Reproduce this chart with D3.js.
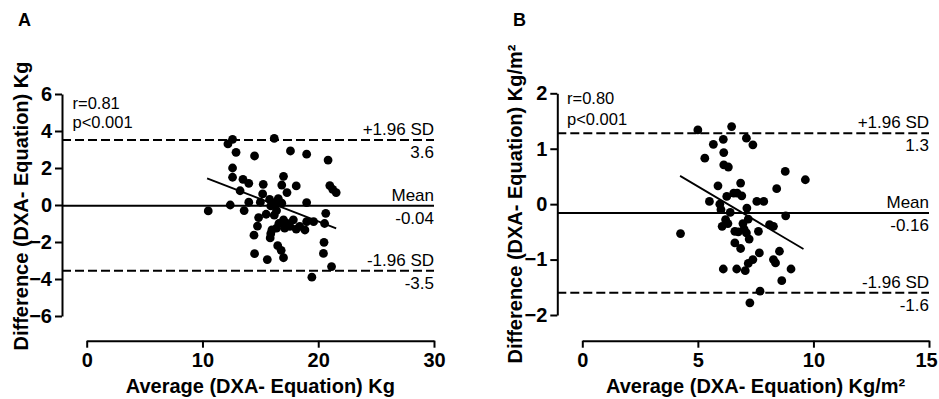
<!DOCTYPE html>
<html>
<head>
<meta charset="utf-8">
<script src="https://cdn.jsdelivr.net/npm/d3@7"></script>
<style>
  body { margin: 0; background: #fff; }
  svg { font-family: "Liberation Sans", Arial, sans-serif; }
</style>
</head>
<body>
<div id="chart"></div>
<script>
// Panel A: average vs difference, Kg
var avgA = [10.5, 12.4, 12.2, 12.6, 12.9, 12.6, 12.6, 13.25, 13.5, 14.0, 13.6, 14.0, 14.5, 14.45, 14.5,
    14.75, 14.85, 15.0, 15.25, 15.2, 15.5, 15.6, 15.85, 16.2, 15.8, 16.1, 16.4, 16.55, 16.85, 16.4,
    16.6, 16.5, 16.8, 17.0, 17.0, 16.85, 17.3, 17.0, 17.1, 17.6, 18.1, 17.55, 17.85, 18.1, 18.4,
    18.85, 19.0, 19.0, 19.0, 19.45, 19.6, 20.5, 20.45, 20.65, 20.55, 20.85, 21.0, 21.25, 21.55, 21.15,
    16.3, 15.9, 16.2, 17.3, 16.0, 15.9];
var diffA = [-0.32, 0.0, 3.3, 3.55, 2.85, 2.0, 1.5, 0.77, 1.39, 1.17, -0.3, 0.15, 2.65, -1.63, -2.63,
    -1.14, -0.68, 0.15, 1.12, 0.6, -0.5, -2.95, -1.78, 3.6, 0.3, 0.1, -0.3, 0.35, 0.1, -1.25,
    -1.0, -2.2, -2.45, -2.85, 1.55, 1.08, 0.67, -0.8, -1.25, 2.92, 1.03, -1.15, -0.8, -1.3, -1.15,
    -1.35, 2.75, 0.13, -0.9, -3.9, -0.9, -2.02, -2.62, -0.45, -1.0, 2.43, 1.05, 0.85, 0.67, -3.33,
    0.0, -0.05, -0.55, -1.0, -1.35, -1.55];
var fitA = [[10.4, 1.44], [21.55, -1.26]];
var limitsA = [3.52, -0.04, -3.56];
var limitLabelsA = ["3.6", "-0.04", "-3.5"];
var xTicksA = [0, 10, 20, 30];
var yTicksA = [-6, -4, -2, 0, 2, 4, 6];

// Panel B: average vs difference, Kg/m2
var avgB = [4.25, 5.0, 5.3, 5.5, 5.67, 5.87, 5.95, 6.1, 6.12, 6.12, 6.32, 6.1, 6.05, 6.2, 6.25,
    6.46, 6.4, 6.55, 6.6, 6.6, 6.68, 6.85, 6.85, 6.9, 6.95, 7.05, 7.1, 7.38, 7.12, 7.18,
    7.1, 7.22, 7.18, 7.25, 7.38, 7.55, 7.62, 7.66, 7.69, 7.85, 8.1, 8.27, 8.27, 8.36, 8.41,
    8.53, 8.63, 8.78, 8.8, 9.03, 9.65, 6.7, 6.3, 6.0, 6.75, 7.0];
var diffB = [-0.53, 1.34, 0.83, 0.05, 1.08, 0.33, 0.0, 1.17, 0.93, 0.71, 0.67, -1.17, -0.4, -0.28, 0.14,
    1.4, -0.15, 0.2, -0.49, -0.7, -1.17, 0.38, -0.8, 0.15, -0.35, -1.2, 1.19, 1.07, -0.07, -0.27,
    -0.52, -0.63, -1.07, -1.78, -1.0, 0.05, -0.49, -0.88, -1.57, 0.05, -0.37, -0.4, -1.0, -1.06, 0.28,
    -0.85, -1.38, 0.59, -0.21, -1.17, 0.44, 0.2, -0.35, -0.1, -0.5, -0.45];
var fitB = [[4.23, 0.51], [9.57, -0.81]];
var limitsB = [1.28, -0.16, -1.6];
var limitLabelsB = ["1.3", "-0.16", "-1.6"];
var xTicksB = [0, 5, 10, 15];
var yTicksB = [-2, -1, 0, 1, 2];

var limitNames = ["+1.96 SD", "Mean", "-1.96 SD"];

var svg = d3.select("#chart").append("svg")
    .attr("width", 939)
    .attr("height", 399);

svg.append("rect").attr("width", 939).attr("height", 399).attr("fill", "#fff");

function drawPanel(p) {
    var x = d3.scaleLinear().domain(p.xDomain).range(p.xRange),
        y = d3.scaleLinear().domain(p.yDomain).range(p.yRange);

    var g = svg.append("g");

    // panel letter
    g.append("text")
        .attr("x", p.letterX).attr("y", 26)
        .style("font-size", "18px").style("font-weight", "bold")
        .text(p.letter);

    // y axis
    var yAxis = g.append("g")
        .attr("transform", "translate(" + p.yAxisX + ",0)")
        .call(d3.axisLeft(y).tickValues(p.yTicks).tickFormat(d3.format("d"))
            .tickSize(7).tickSizeOuter(0).tickPadding(3));

    // x axis, offset below
    var xAxis = g.append("g")
        .attr("transform", "translate(0," + p.xAxisY + ")")
        .call(d3.axisBottom(x).tickValues(p.xTicks).tickFormat(d3.format("d"))
            .tickSize(7).tickSizeOuter(0).tickPadding(5));

    [yAxis, xAxis].forEach(function(a) {
        a.select(".domain").attr("stroke", "#000").attr("stroke-width", 2);
        a.selectAll(".tick line").attr("stroke", "#000").attr("stroke-width", 2);
        a.selectAll(".tick text")
            .attr("fill", "#000")
            .style("font-size", "20px")
            .style("font-weight", "bold")
            .style("font-family", "'Liberation Sans', Arial, sans-serif");
    });
    // keep the last x label inside the page
    xAxis.selectAll(".tick text").filter(function(d) { return d === p.xDomain[1]; })
        .attr("dx", p.lastDx || 0);

    // axis titles
    g.append("text")
        .attr("x", (p.xRange[0] + p.xRange[1]) / 2).attr("y", 393)
        .attr("text-anchor", "middle")
        .style("font-size", "20px").style("font-weight", "bold")
        .text(p.xTitle);

    g.append("text")
        .attr("transform", "translate(" + p.yTitleX + "," + p.yTitleY + ") rotate(-90)")
        .attr("text-anchor", "middle")
        .style("font-size", "20px").style("font-weight", "bold")
        .text(p.yTitle);

    // stats
    g.append("text").attr("x", p.statX).attr("y", p.statY[0])
        .style("font-size", "16.5px").text(p.stats[0]);
    g.append("text").attr("x", p.statX).attr("y", p.statY[1])
        .style("font-size", "16.5px").text(p.stats[1]);

    // limits of agreement and mean
    var xEnd = p.xRange[1];
    p.limits.forEach(function(v, i) {
        g.append("line")
            .attr("x1", p.yAxisX).attr("x2", xEnd)
            .attr("y1", y(v)).attr("y2", y(v))
            .attr("stroke", "#000").attr("stroke-width", 2)
            .attr("stroke-dasharray", i === 1 ? null : "9,4");
        g.append("text")
            .attr("x", xEnd).attr("y", y(v) - 5)
            .attr("text-anchor", "end")
            .style("font-size", "17px")
            .text(limitNames[i]);
        g.append("text")
            .attr("x", xEnd).attr("y", y(v) + 18)
            .attr("text-anchor", "end")
            .style("font-size", "17px")
            .text(p.limitLabels[i]);
    });

    // points
    g.selectAll(".dot")
        .data(d3.zip(p.avg, p.diff))
        .enter()
        .append("circle")
            .attr("class", "dot")
            .attr("cx", function(d) { return x(d[0]); })
            .attr("cy", function(d) { return y(d[1]); })
            .attr("r", 4.4)
            .attr("fill", "#000");

    // regression line
    g.append("line")
        .attr("x1", x(p.fit[0][0])).attr("y1", y(p.fit[0][1]))
        .attr("x2", x(p.fit[1][0])).attr("y2", y(p.fit[1][1]))
        .attr("stroke", "#000").attr("stroke-width", 1.8);
}

drawPanel({
    letter: "A", letterX: 18,
    avg: avgA, diff: diffA, fit: fitA,
    limits: limitsA, limitLabels: limitLabelsA,
    xTicks: xTicksA, yTicks: yTicksA,
    xDomain: [0, 30], xRange: [86.7, 434],
    yDomain: [-6, 6], yRange: [316, 94],
    yAxisX: 62, xAxisY: 340.7,
    xTitle: "Average (DXA- Equation) Kg",
    yTitle: "Difference (DXA- Equation) Kg",
    yTitleX: 28, yTitleY: 206,
    stats: ["r=0.81", "p<0.001"], statX: 72.5, statY: [109, 128]
});

drawPanel({
    letter: "B", letterX: 513,
    avg: avgB, diff: diffB, fit: fitB,
    limits: limitsB, limitLabels: limitLabelsB,
    xTicks: xTicksB, yTicks: yTicksB,
    xDomain: [0, 15], xRange: [582.3, 929], lastDx: -3,
    yDomain: [-2, 2], yRange: [315, 93.3],
    yAxisX: 557.3, xAxisY: 340.7,
    xTitle: "Average (DXA- Equation) Kg/m²",
    yTitle: "Difference (DXA- Equation) Kg/m²",
    yTitleX: 522, yTitleY: 204,
    stats: ["r=0.80", "p<0.001"], statX: 567, statY: [103.5, 124.5]
});
</script>
</body>
</html>
